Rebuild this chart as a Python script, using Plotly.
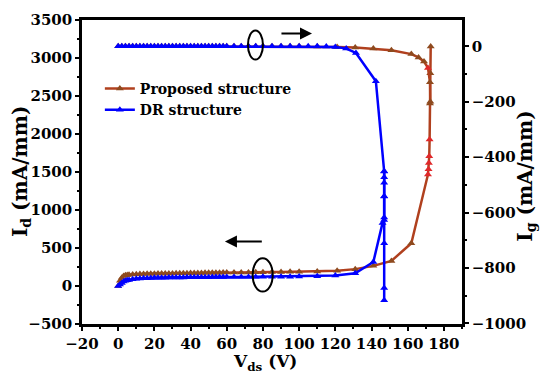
import plotly.graph_objects as go

# ---------------- data ----------------
v_prop_id = [0, 1, 2, 3, 4, 5, 6, 8, 10, 12, 14, 16, 18, 20, 22, 24, 26, 28, 30, 32, 34, 36, 38, 40,
             42, 44, 46, 48, 50, 52, 54, 56, 58, 60, 64, 68, 72, 76, 80, 85, 90, 95, 100, 110,
             121, 131, 141, 151, 162, 171.2, 171.5, 171.7, 171.9, 172.1, 172.3, 172.5, 172.7]
id_prop = [0, 70, 110, 130, 140, 145, 148, 152, 155, 157, 159, 160, 161, 162, 163, 164, 165, 166, 166, 167,
           168, 169, 169, 170, 171, 171, 172, 173, 173, 174, 174, 175, 176, 176, 177, 178, 179, 180,
           181, 183, 184, 186, 187, 190, 200, 222, 265, 330, 563, 1468, 1535, 1620, 1708, 1927,
           2400, 2800, 3150]

v_dr_id = [0, 1, 2, 3, 4, 5, 6, 8, 10, 12, 14, 16, 18, 20, 22, 24, 26, 28, 30, 32, 34, 36, 38, 40,
           42, 44, 46, 48, 50, 52, 54, 56, 58, 60, 64, 68, 72, 76, 80, 85, 90, 95, 100, 110,
           120, 131, 141, 146.1, 147, 147, 147, 147, 147]
id_dr = [0, 20, 40, 58, 68, 75, 80, 88, 94, 98, 101, 103, 105, 107, 108, 109, 110, 111, 112, 112,
         113, 113, 114, 114, 115, 115, 116, 116, 116, 117, 117, 117, 118, 118, 119, 119, 120, 120,
         121, 122, 122, 123, 124, 127, 138, 168, 315, 830, 900, 1180, 1360, 1430, 1511]

v_prop_ig = [0, 2, 4, 6, 8, 10, 12, 14, 16, 18, 20, 22, 24, 26, 28, 30, 32, 34, 36, 38, 40, 42, 44,
             46, 48, 50, 52, 54, 56, 58, 60, 64, 68, 72, 76, 80, 85, 90, 95, 100, 110, 121, 131,
             141, 151, 162, 166, 169, 171.2, 172.3, 172.5]
ig_prop = [0, 0, 0, 0, 0, 0, 0, 0, 0, 0, 0, 0, 0, 0, 0, 0, 0, 0, 0, 0, 0, 0, 0,
           0, 0, 0, 0, 0, 0, 0, 0, 0, 0, 0, 0, 0, 0, 0, 0, 0, -1, -2, -4,
           -8, -14, -28, -40, -55, -78, -130, -200]

v_dr_ig = [0, 2, 4, 6, 8, 10, 12, 14, 16, 18, 20, 22, 24, 26, 28, 30, 32, 34, 36, 38, 40, 42, 44,
           46, 48, 50, 52, 54, 56, 58, 60, 64, 68, 72, 76, 80, 85, 90, 95, 100, 105, 110, 115,
           120, 126, 131.4, 142.4, 147, 147, 147, 147, 147, 147]
ig_dr = [0, 0, 0, 0, 0, 0, 0, 0, 0, 0, 0, 0, 0, 0, 0, 0, 0, 0, 0, 0, 0, 0, 0,
         0, 0, 0, 0, 0, 0, 0, 0, 0, 0, 0, 0, 0, 0, 0, 0, 0, 0, 0, -1,
         -2, -8, -24, -126, -452, -542, -627, -711, -872, -916]

x_ticks = [-20, 0, 20, 40, 60, 80, 100, 120, 140, 160, 180]
y_ticks = [-500, 0, 500, 1000, 1500, 2000, 2500, 3000, 3500]
y2_ticks = [-1000, -800, -600, -400, -200, 0]

names = ["Proposed structure", "DR structure"]
x_title = "V<sub>ds</sub> (V)"
y_title = "I<sub>d</sub> (mA/mm)"
y2_title = "I<sub>g</sub> (mA/mm)"

# ---------------- style ----------------
FONT = "DejaVu Serif"
BROWN_LINE = "#B0401E"
BROWN_MK = "#8E4A1E"
RED = "#E0282A"
BLUE = "#0000FF"

prop_id_mk = [RED if 1400 <= v <= 2000 else BROWN_MK for v in id_prop]
prop_ig_mk = [RED if v == -78 else BROWN_MK for v in ig_prop]

fig = go.Figure()

fig.add_trace(go.Scatter(x=v_prop_id, y=id_prop, mode="lines+markers", name=names[0],
                         line=dict(color=BROWN_LINE, width=2.5),
                         marker=dict(symbol="triangle-up", size=7, color=prop_id_mk),
                         yaxis="y"))
fig.add_trace(go.Scatter(x=v_dr_id, y=id_dr, mode="lines+markers", name=names[1],
                         line=dict(color=BLUE, width=2.5),
                         marker=dict(symbol="triangle-up", size=7, color=BLUE),
                         yaxis="y"))
fig.add_trace(go.Scatter(x=v_prop_ig, y=ig_prop, mode="lines+markers", name=names[0],
                         showlegend=False,
                         line=dict(color=BROWN_LINE, width=2.5),
                         marker=dict(symbol="triangle-up", size=7, color=prop_ig_mk),
                         yaxis="y2"))
fig.add_trace(go.Scatter(x=v_dr_ig, y=ig_dr, mode="lines+markers", name=names[1],
                         showlegend=False,
                         line=dict(color=BLUE, width=2.5),
                         marker=dict(symbol="triangle-up", size=7, color=BLUE),
                         yaxis="y2"))

axis_common = dict(showgrid=False, zeroline=False, showline=True, linecolor="black", linewidth=2.5,
                   ticks="outside", ticklen=4, tickwidth=2, tickcolor="black", automargin=False,
                   tickfont=dict(family=FONT, size=15, color="black", weight="bold"))

# page body has an 8px offset; margins compensate so the plot area lands at 82..462 x 20..324
fig.update_layout(
    width=550, height=388,
    margin=dict(l=74, r=96, t=12, b=72),
    paper_bgcolor="white", plot_bgcolor="white",
    font=dict(family=FONT, color="black"),
    xaxis=dict(range=[-20, 190], tickvals=x_ticks, mirror=True,
               minor=dict(dtick=10, ticks="outside", ticklen=2, tickwidth=2, tickcolor="black"),
               **axis_common),
    yaxis=dict(range=[-500, 3500], tickvals=y_ticks,
               minor=dict(dtick=250, ticks="outside", ticklen=2, tickwidth=2, tickcolor="black"),
               **axis_common),
    yaxis2=dict(range=[-1002, 95], tickvals=y2_ticks, overlaying="y", side="right",
                minor=dict(dtick=100, ticks="outside", ticklen=2, tickwidth=2, tickcolor="black"),
                **axis_common),
    legend=dict(x=0.047, y=0.826, xanchor="left", yanchor="top", bgcolor="rgba(0,0,0,0)",
                font=dict(family=FONT, size=14, color="black", weight="bold"),
                tracegroupgap=0),
    showlegend=True,
)

title_font = dict(family=FONT, size=20, color="black", weight="bold")
fig.add_annotation(text=x_title, xref="paper", yref="paper", x=0.4816, y=-0.128,
                   showarrow=False, xanchor="center", yanchor="middle",
                   font=dict(family=FONT, size=17, color="black", weight="bold"))
fig.add_annotation(text=y_title, xref="paper", yref="paper", x=-0.1605, y=0.50,
                   showarrow=False, textangle=-90, xanchor="center", yanchor="middle", font=title_font)
fig.add_annotation(text=y2_title, xref="paper", yref="paper", x=1.166, y=0.485,
                   showarrow=False, textangle=-90, xanchor="center", yanchor="middle", font=title_font)

# ellipses marking the curves
fig.add_shape(type="circle", xref="x", yref="y", x0=71.7, x1=80, y0=2979, y1=3361,
              line=dict(color="black", width=2))
fig.add_shape(type="circle", xref="x", yref="y", x0=74.3, x1=85.4, y0=-74, y1=366,
              line=dict(color="black", width=2))

# arrows
fig.add_annotation(x=107.1, y=3321, ax=89.4, ay=3321, xref="x", yref="y", axref="x", ayref="y",
                   showarrow=True, arrowhead=2, arrowsize=1.2, arrowwidth=2, arrowcolor="black", text="")
fig.add_annotation(x=59.0, y=585, ax=80.2, ay=585, xref="x", yref="y", axref="x", ayref="y",
                   showarrow=True, arrowhead=2, arrowsize=1.2, arrowwidth=2, arrowcolor="black", text="")

fig.write_html("out.html")
